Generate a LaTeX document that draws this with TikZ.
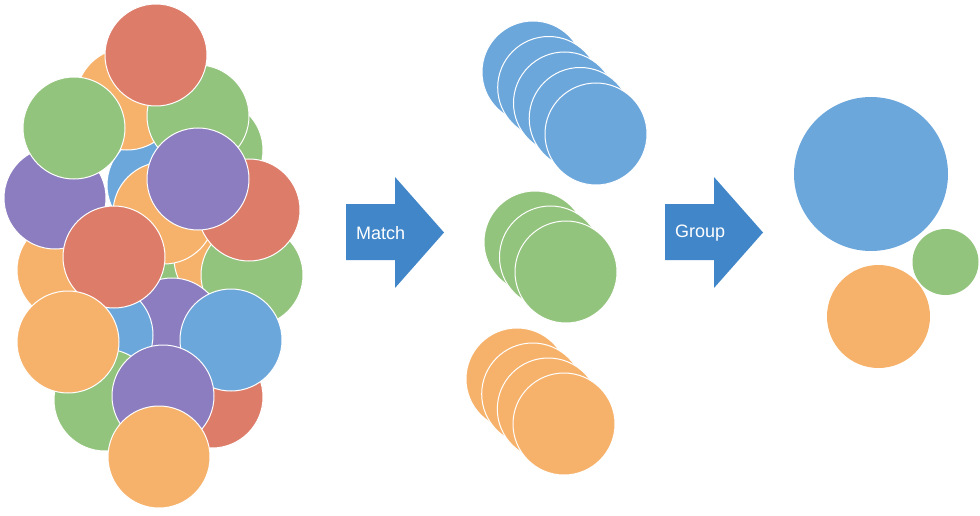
\documentclass[tikz,border=0pt]{standalone}
\usepackage{fontspec}
\setmainfont{Liberation Sans}
\definecolor{cblue}{RGB}{108,167,220}
\definecolor{cgreen}{RGB}{147,196,125}
\definecolor{corange}{RGB}{246,178,107}
\definecolor{cred}{RGB}{222,124,106}
\definecolor{cpurple}{RGB}{140,124,192}
\definecolor{carrow}{RGB}{64,134,200}
\begin{document}
\begin{tikzpicture}[x=1pt,y=-1pt,
  bub/.style={circle,draw=white,line width=1pt,inner sep=0pt,minimum size=102pt},
  big/.style={circle,draw=none,inner sep=0pt},
  arrowtext/.style={text=white,font=\fontsize{18}{20}\selectfont,inner sep=0pt,anchor=west}]
\useasboundingbox (0,0) rectangle (980,516);
% left cluster
\node[bub,fill=cblue]   (l5)  at (158,185) {};
\node[bub,fill=cgreen]  (l1)  at (212,150) {};
\node[bub,fill=corange] (l2)  at (127,99) {};
\node[bub,fill=cgreen]  (l3)  at (198,116) {};
\node[bub,fill=cred]    (l4)  at (156,55) {};
\node[bub,fill=corange] (l6)  at (68,270) {};
\node[bub,fill=cpurple] (l7)  at (55,198) {};
\node[bub,fill=cgreen]  (l8)  at (74,128) {};
\node[bub,fill=cgreen]  (l9)  at (190,240) {};
\node[bub,fill=corange] (l10) at (225,258) {};
\node[bub,fill=cgreen]  (l11) at (252,275) {};
\node[bub,fill=corange] (l12) at (164,213) {};
\node[bub,fill=cred]    (l13) at (249,210) {};
\node[bub,fill=cpurple] (l14) at (198,179) {};
\node[bub,fill=cpurple] (l15) at (172,329) {};
\node[bub,fill=cblue]   (l19) at (102,335) {};
\node[bub,fill=cred]    (l16) at (114,257) {};
\node[bub,fill=cred]    (l17) at (212,397) {};
\node[bub,fill=cblue]   (l18) at (231,340) {};
\node[bub,fill=cgreen]  (l20) at (105,400) {};
\node[bub,fill=corange] (l21) at (68,342) {};
\node[bub,fill=cpurple] (l22) at (163,396) {};
\node[bub,fill=corange] (l23) at (159,457) {};
% Match arrow
\fill[carrow] (346,204) -- (395,204) -- (395,177) -- (444,232.5) -- (395,288) -- (395,260) -- (346,260) -- cycle;
\node[arrowtext] (match) at (356,233.5) {Match};
% middle stacks
\foreach \i/\x/\y in {1/533/72,2/548.7/87.5,3/564.5/103,4/580.2/118.5,5/596/134}
  \node[bub,fill=cblue] (mb\i) at (\x,\y) {};
\foreach \i/\x/\y in {1/535/242,2/550.5/257,3/566/272}
  \node[bub,fill=cgreen] (mg\i) at (\x,\y) {};
\foreach \i/\x/\y in {1/517/379,2/532.7/394,3/548.3/409,4/564/424}
  \node[bub,fill=corange] (mo\i) at (\x,\y) {};
% Group arrow
\fill[carrow] (665,204) -- (714,204) -- (714,177) -- (763,232.5) -- (714,288) -- (714,260) -- (665,260) -- cycle;
\node[arrowtext] (group) at (675,233.5) {Group};
% result
\node[big,fill=cblue,minimum size=154pt]   (rb) at (871,174) {};
\node[big,fill=cgreen,minimum size=66pt]   (rg) at (945.5,262) {};
\node[big,fill=corange,minimum size=103pt] (ro) at (878.5,316.5) {};
\end{tikzpicture}
\end{document}
